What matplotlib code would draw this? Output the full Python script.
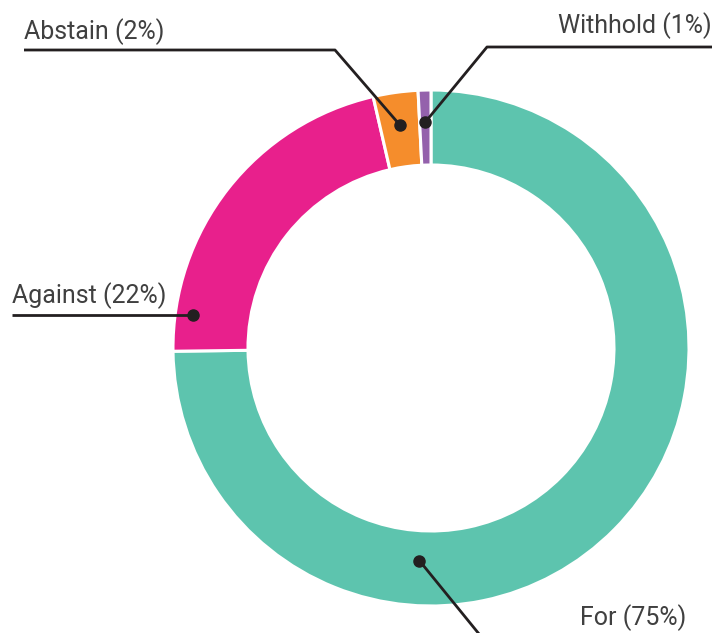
import numpy as np
import matplotlib
matplotlib.use("Agg")
import matplotlib.pyplot as plt

# Datos del gráfico
categorias = ["For", "Against", "Abstain", "Withhold"]
valores = [74.8, 21.6, 2.8, 0.8]
etiquetas = ["For (75%)", "Against (22%)", "Abstain (2%)", "Withhold (1%)"]
colores = ["#5DC4AE", "#E8208C", "#F58D2C", "#9461AC"]

W, H = 723, 633
fig = plt.figure(figsize=(W / 100, H / 100), dpi=100)
ax = fig.add_axes([0, 0, 1, 1])

cx, cy = 431, H - 348
R = 258
ancho = 75

wedges, _ = ax.pie(valores, colors=colores, startangle=90, counterclock=False,
                   center=(cx, cy), radius=R, frame=True,
                   wedgeprops=dict(width=ancho, edgecolor="white", linewidth=2.2))
ax.set_xlim(0, W)
ax.set_ylim(0, H)
ax.set_aspect("equal")
ax.axis("off")


def punto(w, frac, r):
    # punto dentro de la cuña: fracción del ángulo y radio
    ang = np.deg2rad(w.theta1 + frac * (w.theta2 - w.theta1))
    return cx + r * np.cos(ang), cy + r * np.sin(ang)


color_linea = "#231F20"
color_texto = "#404040"
fuente = dict(family="Roboto", fontsize=18, color=color_texto)


def guia(xy, quiebre, fin):
    xs = [xy[0], quiebre[0], fin[0]]
    ys = [xy[1], quiebre[1], fin[1]]
    ax.plot(xs, ys, color=color_linea, lw=2, solid_capstyle="butt", clip_on=False)
    ax.plot(xy[0], xy[1], "o", color=color_linea, ms=8)


# For
p = punto(wedges[0], 0.32, 213)
guia(p, (488, H - 645), (700, H - 645))
ax.text(580, H - 625, etiquetas[0], ha="left", va="baseline", **fuente)

# Against
p = punto(wedges[1], 0.89, 240)
guia(p, (12, p[1]), (12, p[1]))
ax.text(12, p[1] + 12, etiquetas[1], ha="left", va="baseline", **fuente)

# Abstain
p = punto(wedges[2], 0.5, 225)
guia(p, (335, H - 50), (24, H - 50))
ax.text(24, H - 39, etiquetas[2], ha="left", va="baseline", **fuente)

# Withhold
p = punto(wedges[3], 0.5, 226)
guia(p, (487, H - 47), (712, H - 47))
ax.text(712, H - 33, etiquetas[3], ha="right", va="baseline", **fuente)

fig.savefig("out.png", dpi=100)
